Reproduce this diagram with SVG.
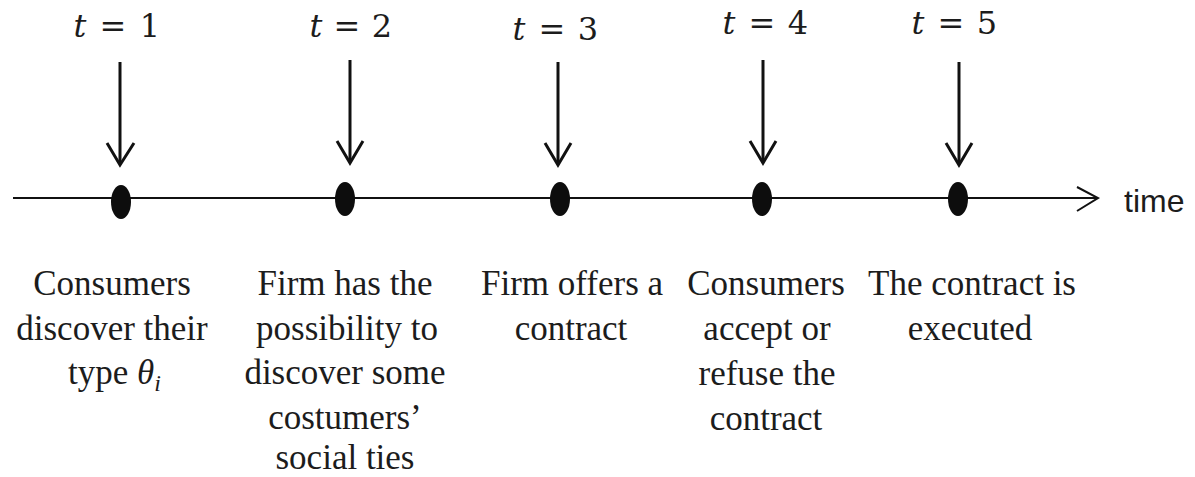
<svg xmlns="http://www.w3.org/2000/svg" width="1195" height="477" viewBox="0 0 1195 477">
<style>
.lbl{font-family:"Liberation Serif","Times New Roman",serif;font-size:35px;fill:#1c1c1c;text-anchor:middle}
.tl{font-family:"DejaVu Serif","Liberation Serif",serif;font-size:32px;fill:#1c1c1c;text-anchor:middle}
.it{font-style:italic}
.arr{stroke:#111;stroke-width:3;fill:none;stroke-linecap:butt}
.axis{stroke:#111;stroke-width:2;fill:none}
.dot{fill:#0d0d0d}
.time{font-family:"Liberation Sans",Arial,sans-serif;font-size:32px;fill:#1c1c1c}
</style>
<rect width="1195" height="477" fill="#ffffff"/>
<g id="connectors">
<line class="axis" x1="13" y1="198" x2="1097" y2="198"/>
<polyline class="axis" points="1077,187 1098,198 1077,211"/>
<line class="arr" x1="120" y1="62" x2="120" y2="164"/>
<polyline class="arr" points="107,143 120,165 134,143"/>
<line class="arr" x1="350" y1="60" x2="350" y2="162"/>
<polyline class="arr" points="337,141 350,163 363,141"/>
<line class="arr" x1="558" y1="62" x2="558" y2="164"/>
<polyline class="arr" points="545,143 558,165 571,143"/>
<line class="arr" x1="763" y1="60" x2="763" y2="162"/>
<polyline class="arr" points="750,141 763,163 776,141"/>
<line class="arr" x1="959" y1="62" x2="959" y2="164"/>
<polyline class="arr" points="946,143 959,165 972,143"/>
</g>
<g id="t1">
<text class="tl" y="37"><tspan class="it" x="80">t</tspan><tspan x="113">=</tspan><tspan x="150">1</tspan></text>
<ellipse class="dot" cx="121" cy="202" rx="10" ry="17"/>
<text class="lbl"><tspan x="112" y="295">Consumers</tspan><tspan x="112" y="340">discover their</tspan></text>
<text class="lbl" x="68" y="384" style="text-anchor:start">type <tspan class="it">θ</tspan><tspan class="it" dy="7" style="font-size:24px">i</tspan></text>
</g>
<g id="t2">
<text class="tl" y="37"><tspan class="it" x="316">t</tspan><tspan x="347">=</tspan><tspan x="382">2</tspan></text>
<ellipse class="dot" cx="345" cy="199" rx="10" ry="17"/>
<text class="lbl"><tspan x="345" y="295">Firm has the</tspan><tspan x="347" y="340">possibility to</tspan><tspan x="345" y="384">discover some</tspan><tspan x="345" y="429">costumers’</tspan><tspan x="345" y="469">social ties</tspan></text>
</g>
<g id="t3">
<text class="tl" y="40"><tspan class="it" x="519">t</tspan><tspan x="552">=</tspan><tspan x="588">3</tspan></text>
<ellipse class="dot" cx="560" cy="199" rx="10" ry="17"/>
<text class="lbl"><tspan x="572" y="295">Firm offers a</tspan><tspan x="571" y="340">contract</tspan></text>
</g>
<g id="t4">
<text class="tl" y="34"><tspan class="it" x="729">t</tspan><tspan x="762">=</tspan><tspan x="798">4</tspan></text>
<ellipse class="dot" cx="762" cy="199" rx="10" ry="17"/>
<text class="lbl"><tspan x="766" y="295">Consumers</tspan><tspan x="767" y="340">accept or</tspan><tspan x="767" y="385">refuse the</tspan><tspan x="766" y="430">contract</tspan></text>
</g>
<g id="t5">
<text class="tl" y="34"><tspan class="it" x="918">t</tspan><tspan x="951">=</tspan><tspan x="987">5</tspan></text>
<ellipse class="dot" cx="958" cy="199" rx="10" ry="17"/>
<text class="lbl"><tspan x="972" y="295">The contract is</tspan><tspan x="970" y="340">executed</tspan></text>
</g>
<g id="time-label">
<text class="time" x="1124" y="212">time</text>
</g>
</svg>
